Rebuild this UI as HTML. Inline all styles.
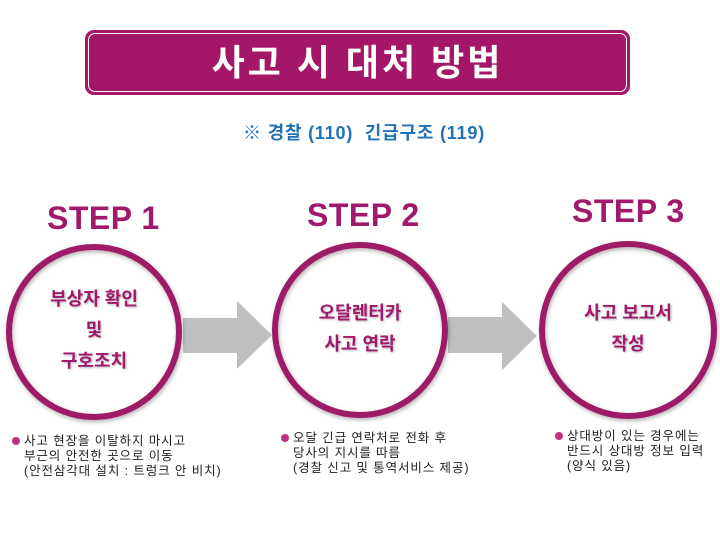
<!DOCTYPE html>
<html><head><meta charset="utf-8"><style>
body{margin:0;width:720px;height:533px;background:#fff;overflow:hidden;position:relative;font-family:"Liberation Sans","Noto Sans CJK KR",sans-serif}
.a{position:absolute}
.step{position:absolute;color:#a0196a;font-weight:bold;font-size:32px;letter-spacing:0.5px;white-space:nowrap}
.ct{position:absolute;color:#a0196a;font-weight:bold;font-size:18px;text-align:center;line-height:31px;text-shadow:1px 1px 2px rgba(0,0,0,.3)}
.bl{position:absolute;font-size:12.5px;line-height:15px;color:#222;white-space:nowrap;letter-spacing:0.9px}
.bl b{position:absolute;left:-12px;top:3px;width:8px;height:8px;border-radius:50%;background:#c0307a}
</style></head><body>
<div class="a" style="left:85px;top:30px;width:541px;height:61px;background:#a41667;border:2px solid #a41667;border-radius:9px"></div>
<div class="a" style="left:88px;top:33px;width:537px;height:57px;border:1.5px solid #fff;border-radius:7px"></div>
<div class="a" style="left:85px;top:30px;width:545px;height:65px;text-align:center;line-height:65px;color:#fff;font-weight:bold;font-size:36px;letter-spacing:3px">사고 시 대처 방법</div>
<div class="a" style="left:0;width:728px;top:119px;text-align:center;color:#1f72b8;font-weight:bold;font-size:18px;letter-spacing:0.8px">※ 경찰 (110)&nbsp;&nbsp;긴급구조 (119)</div>
<div class="step" style="left:47px;top:200px">STEP 1</div>
<div class="step" style="left:307px;top:197px">STEP 2</div>
<div class="step" style="left:572px;top:193px">STEP 3</div>
<svg class="a" style="left:0;top:0" width="720" height="533">
<defs><filter id="s"><feDropShadow dx="1" dy="2" stdDeviation="2" flood-opacity=".3"/></filter></defs>
<polygon points="183,318 237,318 237,301 272,335 237,369 237,353 183,353" fill="#bfbfbf"/>
<polygon points="448,317 502,317 502,302 537,336 502,370 502,353 448,353" fill="#bfbfbf"/>
<g fill="none" stroke="#9e1a66" stroke-width="6" filter="url(#s)">
<circle cx="94" cy="332" r="85"/>
<circle cx="360" cy="330" r="85"/>
<circle cx="628" cy="330" r="86"/>
</g></svg>
<div class="ct" style="left:14px;top:284px;width:160px">부상자 확인<br>및<br>구호조치</div>
<div class="ct" style="left:280px;top:298px;width:160px">오달렌터카<br>사고 연락</div>
<div class="ct" style="left:548px;top:298px;width:160px">사고 보고서<br>작성</div>
<div class="bl" style="left:24px;top:434px"><b></b>사고 현장을 이탈하지 마시고<br>부근의 안전한 곳으로 이동<br>(안전삼각대 설치 : 트렁크 안 비치)</div>
<div class="bl" style="left:293px;top:431px"><b></b>오달 긴급 연락처로 전화 후<br>당사의 지시를 따름<br>(경찰 신고 및 통역서비스 제공)</div>
<div class="bl" style="left:567px;top:429px"><b></b>상대방이 있는 경우에는<br>반드시 상대방 정보 입력<br>(양식 있음)</div>
</body></html>
